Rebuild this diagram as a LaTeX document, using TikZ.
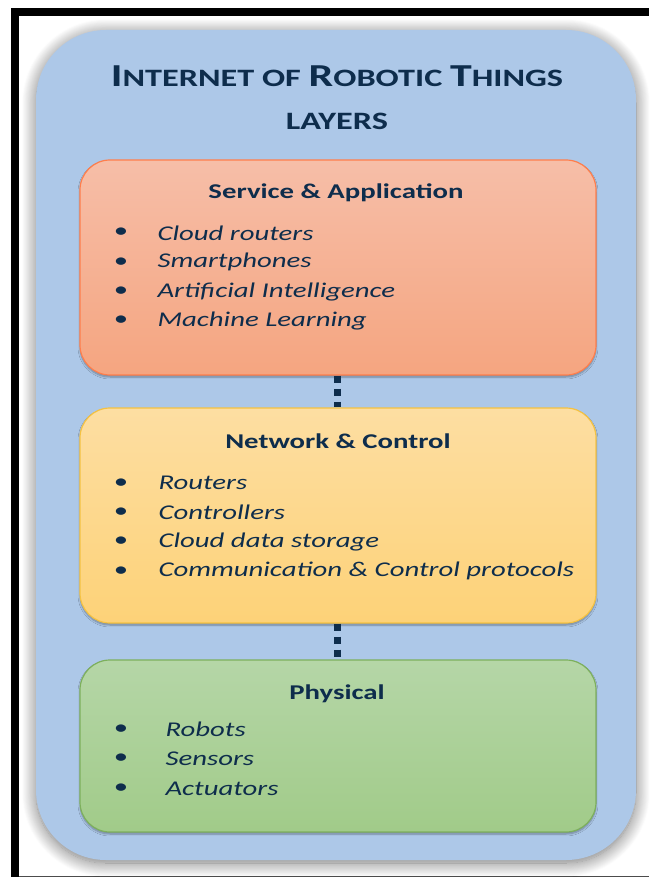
\documentclass[tikz,border=0pt]{standalone}
\usepackage{fontspec}
\setmainfont[FakeStretch=1.37]{Carlito}
\usetikzlibrary{shadows.blur}
\definecolor{ink}{HTML}{0E2D4C}
\definecolor{panel}{HTML}{ADC8E8}
\tikzset{
  layer/.style={draw, line width=1.2pt, rounded corners=30pt, minimum width=516pt, blur shadow={shadow xshift=0pt, shadow yshift=-2pt, shadow blur steps=6, shadow opacity=35}},
  head/.style={text=ink, font=\fontsize{21}{24}\selectfont\bfseries},
  item/.style={text=ink, font=\fontsize{21}{24}\selectfont\itshape, anchor=west},
  bul/.style={text=ink, font=\fontsize{21}{24}\selectfont},
  dots/.style={ink, line width=7pt, dash pattern=on 7pt off 6pt}
}
\begin{document}
\begin{tikzpicture}[x=1pt, y=-1pt]
  \useasboundingbox (0,0) rectangle (649,877);
  % frame
  \fill[black] (11,8) rectangle (649,16);
  \fill[black] (11,8) rectangle (19,877);
  \draw[black!70, line width=1pt] (19,876) -- (649,876);
  % background panel
  \node[fill=panel, rounded corners=70pt, minimum width=600pt, minimum height=830pt,
    blur shadow={shadow xshift=0pt, shadow yshift=-3pt, shadow blur radius=14pt, shadow blur steps=16, shadow opacity=55}]
    (panel) at (336,445) {};
  % title
  \node[text=ink, font=\bfseries] (title) at (337,76)
    {\fontsize{32}{36}\selectfont I\fontsize{25}{30}\selectfont NTERNET OF
     \fontsize{32}{36}\selectfont R\fontsize{25}{30}\selectfont OBOTIC
     \fontsize{32}{36}\selectfont T\fontsize{25}{30}\selectfont HINGS};
  \node[text=ink, font=\bfseries\fontsize{25}{30}\selectfont] (sub) at (337,121) {LAYERS};
  % layers
  \node[layer, draw=orange!55!red!70, top color={rgb,255:red,246;green,190;blue,168}, bottom color={rgb,255:red,245;green,165;blue,128}, minimum height=215pt] (svc) at (338,267.5) {};
  \node[layer, draw={rgb,255:red,245;green,194;blue,66}, top color={rgb,255:red,253;green,222;blue,162}, bottom color={rgb,255:red,253;green,210;blue,120}, minimum height=215pt] (net) at (338,515.5) {};
  \node[layer, draw={rgb,255:red,125;green,176;blue,92}, top color={rgb,255:red,181;green,214;blue,167}, bottom color={rgb,255:red,161;green,203;blue,137}, minimum height=172pt] (phy) at (338,746) {};
  % connectors
  \draw[dots] (svc.south -| 337,0) -- (net.north -| 337,0);
  \draw[dots] (net.south -| 337,0) -- (phy.north -| 337,0);
  % service
  \node[head] (svchead) at (336,193) {Service \& Application};
  \foreach \t [count=\i] in {Cloud routers, Smartphones, Artificial Intelligence, Machine Learning} {
    \node[bul] (svcb\i) at (121,203.5+29.4*\i) {•};
    \node[item] (svci\i) at (154,203.5+29.4*\i) {\t};
  }
  % network
  \node[head] (nethead) at (338,441.5) {Network \& Control};
  \foreach \t [count=\i] in {Routers, Controllers, Cloud data storage, Communication \& Control protocols} {
    \node[bul] (netb\i) at (121,454+29.3*\i) {•};
    \node[item] (neti\i) at (155,454+29.3*\i) {\t};
  }
  % physical
  \node[head] (phyhead) at (337,693.5) {Physical};
  \foreach \t [count=\i] in {Robots, Sensors, Actuators} {
    \node[bul] (phyb\i) at (121,700+29.5*\i) {•};
    \node[item] (phyi\i) at (162,700+29.5*\i) {\t};
  }
\end{tikzpicture}
\end{document}
